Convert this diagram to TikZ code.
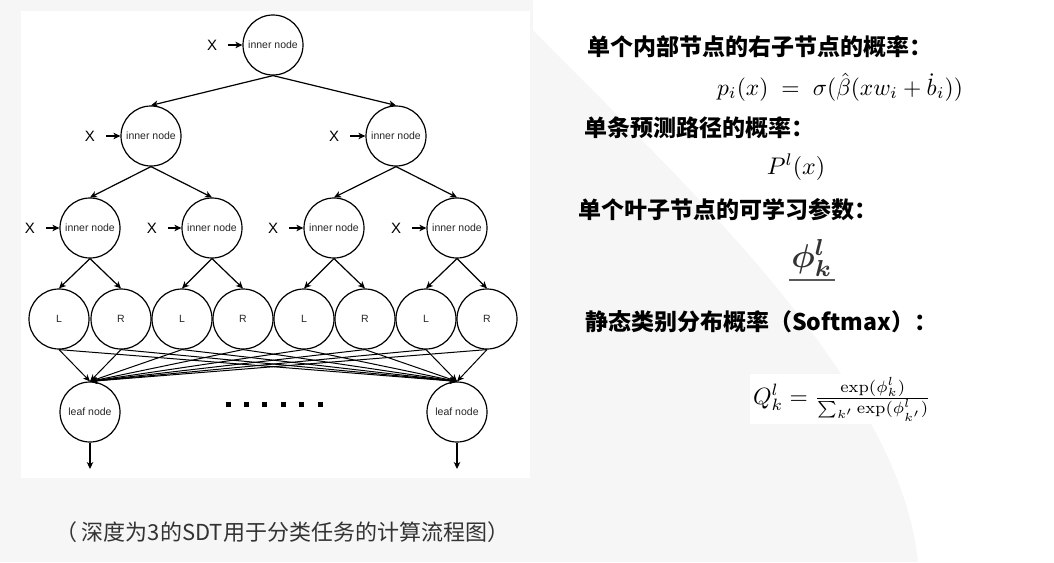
\documentclass[tikz,border=0pt]{standalone}
\usepackage{amsmath,amssymb,bm}
\usepackage[no-math]{fontspec}
\usetikzlibrary{arrows.meta}
\newfontfamily\arialf{Liberation Sans}
\newfontfamily\cjk{Noto Sans CJK SC}
\definecolor{bgc}{HTML}{F6F6F6}
\definecolor{capc}{HTML}{333333}
\begin{document}
\begin{tikzpicture}[x=1pt,y=-1pt,
  every node/.style={inner sep=0pt},
  tn/.style={circle, draw, line width=1.2pt, minimum size=60pt,
    font=\arialf\fontsize{10.5}{12}\selectfont, text=black!85},
  xl/.style={font=\arialf\fontsize{15}{18}\selectfont, outer sep=11pt},
  ar/.style={line width=1.2pt, -{Stealth[length=7pt,width=6.5pt,inset=2pt]}},
  edg/.style={line width=1pt, -{Stealth[length=7pt,width=6pt,inset=2pt]}},
  hd/.style={anchor=west, font=\cjk\bfseries\fontsize{23}{27}\selectfont},
  dotsq/.style={rectangle, fill=black, minimum size=5pt}]
% background
\fill[bgc] (0,0) rectangle (1054,562);
\fill[white] (533,0) -- (1054,0) -- (1054,562) -- (918,562)
  .. controls (900,380) and (680,180) .. (533,30) -- cycle;
\fill[white] (21,11) rectangle (530,478);
% tree
\node[tn] (r) at (273,45) {inner node};
\node[tn] (a1) at (151,136) {inner node};
\node[tn] (a2) at (396,136) {inner node};
\node[tn] (b1) at (90,228) {inner node};
\node[tn] (b2) at (212,228) {inner node};
\node[tn] (b3) at (334,228) {inner node};
\node[tn] (b4) at (457,228) {inner node};
\node[tn] (c1) at (59,319) {L};
\node[tn] (c2) at (121,319) {R};
\node[tn] (c3) at (182,319) {L};
\node[tn] (c4) at (243,319) {R};
\node[tn] (c5) at (304,319) {L};
\node[tn] (c6) at (365,319) {R};
\node[tn] (c7) at (426,319) {L};
\node[tn] (c8) at (487,319) {R};
\node[tn] (f1) at (90,412) {leaf node};
\node[tn] (f2) at (457,412) {leaf node};
\coordinate (o1) at (90,469);
\coordinate (o2) at (457,469);
% X inputs
\node[xl] (xr) at (212,45) {X};
\node[xl] (xa1) at (90,136) {X};
\node[xl] (xa2) at (334,136) {X};
\node[xl] (xb1) at (30,228) {X};
\node[xl] (xb2) at (152,228) {X};
\node[xl] (xb3) at (273,228) {X};
\node[xl] (xb4) at (396,228) {X};
\draw[ar] (xr.east) -- (r.west);
\draw[ar] (xa1.east) -- (a1.west);
\draw[ar] (xa2.east) -- (a2.west);
\draw[ar] (xb1.east) -- (b1.west);
\draw[ar] (xb2.east) -- (b2.west);
\draw[ar] (xb3.east) -- (b3.west);
\draw[ar] (xb4.east) -- (b4.west);
% tree edges
\draw[ar] (r.south) -- (a1.north);
\draw[ar] (r.south) -- (a2.north);
\draw[ar] (a1.south) -- (b1.north);
\draw[ar] (a1.south) -- (b2.north);
\draw[ar] (a2.south) -- (b3.north);
\draw[ar] (a2.south) -- (b4.north);
\draw[ar] (b1.south) -- (c1.north);
\draw[ar] (b1.south) -- (c2.north);
\draw[ar] (b2.south) -- (c3.north);
\draw[ar] (b2.south) -- (c4.north);
\draw[ar] (b3.south) -- (c5.north);
\draw[ar] (b3.south) -- (c6.north);
\draw[ar] (b4.south) -- (c7.north);
\draw[ar] (b4.south) -- (c8.north);
\foreach \i in {1,...,8} {
  \draw[edg] (c\i.south) -- (f1.north);
  \draw[edg] (c\i.south) -- (f2.north);
}
\draw[ar] (f1.south) -- (o1);
\draw[ar] (f2.south) -- (o2);
\foreach \i in {0,...,5} \node[dotsq] (d\i) at (228+18.4*\i,404) {};
% caption
\node[font=\cjk\fontsize{22}{26}\selectfont, text=capc] (cap) at (282,532)
  {（ 深度为3的SDT用于分类任务的计算流程图）};
% right side
\node[hd] (h1) at (587,47) {单个内部节点的右子节点的概率：};
\node (m1) at (840,87) {\scalebox{2.35}{$p_i(x) \;=\; \sigma(\hat{\beta}(xw_i + \dot{b}_i))$}};
\node[hd] (h2) at (584,128) {单条预测路径的概率：};
\node (m2) at (796,167) {\scalebox{2.4}{$P^l(x)$}};
\node[hd] (h3) at (578,210) {单个叶子节点的可学习参数：};
\node[fill=white, text=black!80, inner sep=2pt] (m3) at (812,258) {\scalebox{3.3}{$\bm{\phi}^{\bm{l}}_{\bm{k}}$}};
\draw[black!65, line width=2.2pt] ([yshift=-1pt]m3.south west) -- ([yshift=-1pt]m3.south east);
\node[hd] (h4) at (585,322) {静态类别分布概率（Softmax）：};
\node[fill=white, inner sep=3pt] (m4) at (842,399)
  {\scalebox{2.35}{$Q_k^l = \frac{\exp(\phi_k^l)}{\sum_{k'}\exp(\phi_{k'}^l)}$}};
\end{tikzpicture}
\end{document}
